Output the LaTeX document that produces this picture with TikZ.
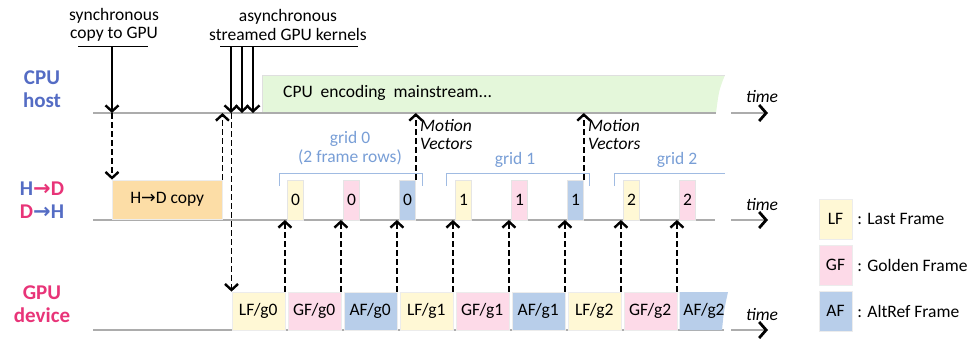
\documentclass[tikz,border=0pt]{standalone}
\usepackage{fontspec}
\setmainfont{Carlito}
\newfontfamily\arrowfont{DejaVu Sans}
\usetikzlibrary{arrows.meta}

\definecolor{hostblue}{RGB}{84,108,196}
\definecolor{devpink}{RGB}{232,52,120}
\definecolor{gridblue}{RGB}{120,158,214}
\definecolor{lfyellow}{RGB}{255,248,213}
\definecolor{gfpink}{RGB}{253,218,232}
\definecolor{afblue}{RGB}{184,206,234}
\definecolor{copyorange}{RGB}{252,221,166}
\definecolor{cpugreen}{RGB}{228,247,218}

\begin{document}
\begin{tikzpicture}[x=1pt,y=-1pt,
 every node/.style={font=\fontsize{17.5}{18.5}\selectfont, inner sep=0pt},
 rowlabel/.style={font=\fontsize{21}{23}\selectfont\bfseries, align=center},
 timeline/.style={draw=gray!65, line width=1.2pt},
 timearrow/.style={draw=gray!65, line width=1.2pt, -{Straight Barb[length=7pt,width=16pt,line width=2.8pt,black]}},
 solidarrow/.style={line width=1.6pt, -{Straight Barb[length=6pt,width=13pt,line width=2.4pt]}},
 dasharrow/.style={solidarrow, dash pattern=on 5.5pt off 3.5pt},
 framebox/.style={draw=gray!15, minimum width=53pt, minimum height=38pt, anchor=south west},
 gridbox/.style={draw=gray!20, minimum width=16pt, minimum height=40pt, anchor=south west},
 legendbox/.style={draw=gray!15, minimum width=33pt, minimum height=40pt},
 bracket/.style={draw=gridblue!70, line width=0.8pt},
 timetext/.style={font=\fontsize{17.5}{18.5}\selectfont\itshape}]

\useasboundingbox (0,0) rectangle (979,341);

% row labels
\path (42,89) node(cpulbl)[rowlabel, text=hostblue]{CPU\\host};
\path (42,200) node(hdlbl)[rowlabel]{\textcolor{hostblue}{H}\textcolor{devpink}{{\arrowfont→}D}\\
  \textcolor{devpink}{D}\textcolor{hostblue}{{\arrowfont→}H}};
\path (42,304) node(gpulbl)[rowlabel, text=devpink]{GPU\\device};

% rows
\coordinate (cpuL) at (93,113);
\coordinate (hdL) at (93,220);
\coordinate (gpuL) at (93,330);
\fill[cpugreen] (262,75) -- (725,75) .. controls (719,90) .. (716,113) -- (262,113) -- cycle;
\draw[gray!25] (262,113) -- (262,75) -- (725,75);
\path (283,93) node(cpuenc)[anchor=west]{CPU\ \ encoding\ \ mainstream...};
\draw[timeline] (cpuL) -- (716,113);
\draw[timeline] (hdL) -- (715,220);
\draw[timeline, line width=2.5pt] (gpuL) -- (724,330);

\draw[timearrow] (731,113) -- (768,113);
\draw[timearrow] (731,220) -- (768,220);
\draw[timearrow] (731,330) -- (768,330);
\path (762,97) node(t1)[timetext]{time};
\path (762,205) node(t2)[timetext]{time};
\path (762,315) node(t3)[timetext]{time};

% host side
\path (114,25) node(synclbl)[align=center]{synchronous\\copy to GPU};
\path (288,25) node(asynclbl)[align=center]{asynchronous\\streamed GPU kernels};
\draw[line width=1pt] (78,46) -- (148,46);
\draw[line width=1pt] (220,46) -- (358,46);
\coordinate (syncbar) at (112,46);
\draw[solidarrow] (syncbar) -- (syncbar |- cpuL);
\foreach \x in {231,242,253}
  \draw[solidarrow] (\x,46) -- (\x,113);

\path (112,219) node(hdcopy)[anchor=south west, fill=copyorange, draw=gray!15,
  minimum width=110pt, minimum height=39pt]{H{\arrowfont→}D copy};
\draw[dasharrow] (hdcopy.north west |- cpuL) -- (hdcopy.north west);
\draw[dasharrow] (hdcopy.north east) -- (hdcopy.north east |- cpuL);

% GPU frames and grid transfers
\foreach \f/\g/\c [count=\i from 0] in {LF/0/lfyellow, GF/0/gfpink, AF/0/afblue,
    LF/1/lfyellow, GF/1/gfpink, AF/1/afblue, LF/2/lfyellow, GF/2/gfpink}{
  \path (231.5+56*\i,330) node(g\i)[framebox, fill=\c]{\f/g\g};
  \path (g\i.north east |- hdL) node(s\i)[gridbox, xshift=2.5pt, fill=\c]{\g};
  \draw[dasharrow] (g\i.north east) -- (g\i.north east |- hdL);
}
\fill[afblue] (679.5,292) -- (728,292) .. controls (724,310) .. (722,330) -- (679.5,330) -- cycle;
\path (704,311) node(g8){AF/g2};
\draw[dasharrow] (cpuL -| g0.north west) -- (g0.north west);

% motion vectors
\draw[dasharrow] (s2.north east) -- (s2.north east |- cpuL);
\draw[dasharrow] (s5.north east) -- (s5.north east |- cpuL);
\path (420,119) node(mv0)[anchor=north west, align=left, font=\fontsize{17.5}{18.5}\selectfont\itshape]{Motion\\Vectors};
\path (588,119) node(mv1)[anchor=north west, align=left, font=\fontsize{17.5}{18.5}\selectfont\itshape]{Motion\\Vectors};

% grid brackets
\draw[bracket] (279,186) -- (279,173) -- (422,173) -- (422,186);
\draw[bracket] (446,186) -- (446,173) -- (589,173) -- (589,186);
\draw[bracket] (614,186) -- (614,173) -- (725,173);
\path (350,148) node(grid0)[align=center, text=gridblue]{grid 0\\(2 frame rows)};
\path (515,160) node(grid1)[text=gridblue]{grid 1};
\path (677,160) node(grid2)[text=gridblue]{grid 2};

% legend
\path (835.5,219) node(lf)[legendbox, fill=lfyellow]{LF};
\path (835.5,265) node(gf)[legendbox, fill=gfpink]{GF};
\path (835.5,311) node(af)[legendbox, fill=afblue]{AF};
\path (lf.east) ++(5,0) node(lftxt)[anchor=west]{: Last Frame};
\path (gf.east) ++(5,0) node(gftxt)[anchor=west]{: Golden Frame};
\path (af.east) ++(5,0) node(aftxt)[anchor=west]{: AltRef Frame};
\end{tikzpicture}
\end{document}
